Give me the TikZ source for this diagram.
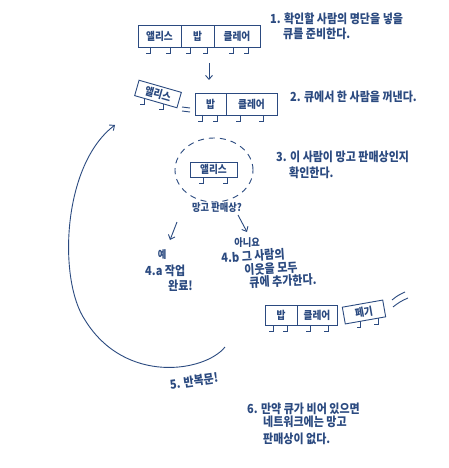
\documentclass[tikz,border=0pt]{standalone}
\usepackage{fontspec}
\newfontfamily\hand[FakeStretch=0.88]{Noto Sans CJK KR}
\usetikzlibrary{arrows.meta,calc,shapes.geometric}
\definecolor{ink}{HTML}{2B4A80}
\tikzset{
  cell/.style={draw=ink, line width=0.9pt, inner sep=0pt, minimum height=22pt, text=ink,
    font=\hand\bfseries\fontsize{11}{11}\selectfont},
  txt/.style={text=ink, font=\hand\bfseries\fontsize{12.5}{14}\selectfont, anchor=west, inner sep=0pt},
  small/.style={text=ink, font=\hand\bfseries\fontsize{10.5}{12}\selectfont, inner sep=0pt},
  arr/.style={draw=ink, line width=0.9pt, -{Straight Barb[length=4pt,width=7pt]}},
  inkline/.style={draw=ink, line width=0.9pt},
  leg/.pic={\draw[ink, line width=0.9pt] (0,0) -- (0,6) -- (-4,6);}
}
\begin{document}
\begin{tikzpicture}[x=1pt,y=-1pt]
\useasboundingbox[fill=white] (0,0) rectangle (448,468);

% ---- step 1
\node[cell, minimum width=43pt] (q1a) at (159.5,36) {앨리스};
\node[cell, minimum width=33pt] (q1b) at (197.5,36) {밥};
\node[cell, minimum width=46pt] (q1c) at (237,36) {클레어};
\foreach \x in {150,170,190,207,233,248} \pic at (\x,47) {leg};
\node[txt] (t1a) at (270,19) {1. 확인할 사람의 명단을 넣을};
\node[txt] (t1b) at (283,34) {큐를 준비한다.};

\coordinate (ar1s) at (209,63);
\coordinate (ar1e) at (209,80);
\draw[arr] (ar1s) -- (ar1e);

% ---- step 2
\begin{scope}[shift={(158,94)}, rotate=-16]
  \node[cell, minimum width=44pt, minimum height=16pt, transform shape] (a2) at (0,0) {앨리스};
  \pic at (-12,8) {leg};
  \pic at (8,8) {leg};
\end{scope}
\draw[inkline] (182,107) -- (190,108);
\draw[inkline] (182,111) -- (190,112);
\node[cell, minimum width=31pt] (q2a) at (210.5,104) {밥};
\node[cell, minimum width=51pt] (q2b) at (251.5,104) {클레어};
\foreach \x in {202,217,240,263} \pic at (\x,115) {leg};
\node[txt] (t2) at (290,97) {2. 큐에서 한 사람을 꺼낸다.};

% ---- step 3
\node[ellipse, draw=ink, line width=0.9pt, dash pattern=on 6pt off 5pt,
      minimum width=78pt, minimum height=64pt] (c3) at (214,170) {};
\node[cell, minimum width=47pt, minimum height=15pt] (a3) at (213.5,169.5) {앨리스};
\pic at (203,177) {leg};
\pic at (227,177) {leg};
\node[txt] (t3a) at (276,157) {3. 이 사람이 망고 판매상인지};
\node[txt] (t3b) at (289,173) {확인한다.};

\node[small] (qm) at (217,208) {망고 판매상?};
\coordinate (arls) at (177,222);
\coordinate (arle) at (170,240);
\coordinate (arrs) at (238,215);
\coordinate (arre) at (247,232);
\draw[arr] (arls) -- (arle);
\draw[arr] (arrs) -- (arre);

\node[small] (yes) at (162,255) {예};
\node[txt] (t4a1) at (145,271) {4.a 작업};
\node[txt] (t4a2) at (168,286) {완료!};

\node[small] (no) at (247,243) {아니요};
\node[txt, anchor=center, rotate=4] (t4b1) at (253,256) {4.b 그 사람의};
\node[txt, anchor=center, rotate=3] (t4b2) at (271,268.5) {이웃을 모두};
\node[txt, anchor=center, rotate=3] (t4b3) at (283,281) {큐에 추가한다.};

% ---- queue at bottom
\node[cell, minimum width=32pt, minimum height=20pt] (q4a) at (281,315) {밥};
\node[cell, minimum width=40pt, minimum height=20pt] (q4b) at (317,315) {클레어};
\foreach \x in {273,287,310,328} \pic at (\x,325) {leg};
\begin{scope}[shift={(364,312)}, rotate=10]
  \node[cell, minimum width=41pt, minimum height=17pt, transform shape] (p4) at (0,0) {페기};
  \pic at (-5,8.5) {leg};
  \pic at (13,8.5) {leg};
\end{scope}
\draw[inkline] (392,300) to[bend left=8] (405,292);
\draw[inkline] (393,307) to[bend left=8] (408,298);

% ---- loop
\coordinate (loopS) at (225,347);
\coordinate (loopE) at (115,125);
\draw[arr] (loopS) .. controls (205,372) and (125,385) .. (85,320)
               .. controls (58,280) and (62,165) .. (loopE);
\node[txt, anchor=center, rotate=8] (t5) at (194,381) {5. 반복문!};

% ---- step 6
\node[txt] (t6a) at (247,409) {6. 만약 큐가 비어 있으면};
\node[txt] (t6b) at (263,422) {네트워크에는 망고};
\node[txt] (t6c) at (263,439) {판매상이 없다.};
\end{tikzpicture}
\end{document}
